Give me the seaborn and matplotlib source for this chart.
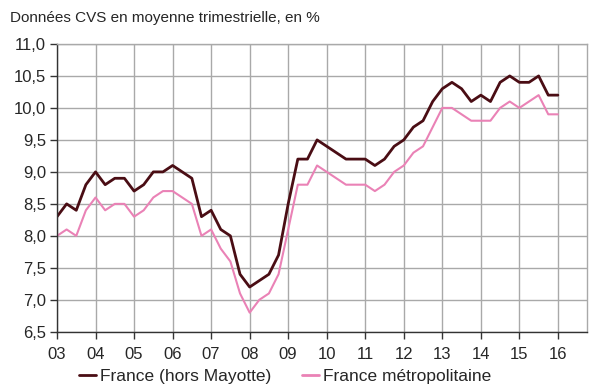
import numpy as np
import pandas as pd
import seaborn as sns
import matplotlib.pyplot as plt
from matplotlib.ticker import FuncFormatter

# quarterly data, 2003Q1 .. 2016Q1
quarters = pd.period_range('2003Q1', '2016Q1', freq='Q')
france = [8.3, 8.5, 8.4, 8.8,
          9.0, 8.8, 8.9, 8.9,
          8.7, 8.8, 9.0, 9.0,
          9.1, 9.0, 8.9, 8.3,
          8.4, 8.1, 8.0, 7.4,
          7.2, 7.3, 7.4, 7.7,
          8.5, 9.2, 9.2, 9.5,
          9.4, 9.3, 9.2, 9.2,
          9.2, 9.1, 9.2, 9.4,
          9.5, 9.7, 9.8, 10.1,
          10.3, 10.4, 10.3, 10.1,
          10.2, 10.1, 10.4, 10.5,
          10.4, 10.4, 10.5, 10.2,
          10.2]
metro = [8.0, 8.1, 8.0, 8.4,
         8.6, 8.4, 8.5, 8.5,
         8.3, 8.4, 8.6, 8.7,
         8.7, 8.6, 8.5, 8.0,
         8.1, 7.8, 7.6, 7.1,
         6.8, 7.0, 7.1, 7.4,
         8.1, 8.8, 8.8, 9.1,
         9.0, 8.9, 8.8, 8.8,
         8.8, 8.7, 8.8, 9.0,
         9.1, 9.3, 9.4, 9.7,
         10.0, 10.0, 9.9, 9.8,
         9.8, 9.8, 10.0, 10.1,
         10.0, 10.1, 10.2, 9.9,
         9.9]
series_names = ['France (hors Mayotte)', 'France métropolitaine']
colors = ['#4a0d14', '#ea82b6']
years = np.arange(2003, 2017)
title = 'Données CVS en moyenne trimestrielle, en %'

pos = quarters.year + (quarters.quarter - 1) / 4
df = pd.concat([
    pd.DataFrame({'t': pos, 'taux': france, 'serie': series_names[0]}),
    pd.DataFrame({'t': pos, 'taux': metro, 'serie': series_names[1]}),
])

sns.set_style('white')
plt.rcParams['font.family'] = ['Liberation Sans', 'DejaVu Sans']

fig = plt.figure(figsize=(6, 3.89), dpi=100)
ax = fig.add_axes([0.095, 0.147, 0.883, 0.740])

sns.lineplot(data=df, x='t', y='taux', hue='serie', hue_order=series_names,
             palette=colors, ax=ax, legend=False)
for line, lw in zip(ax.lines, [2.0, 1.5]):
    line.set_linewidth(lw)

ax.set_xlim(2003, 2016.75)
ax.set_ylim(6.5, 11.0)
ax.set_xticks(years)
ax.set_xticklabels(['%02d' % (y % 100) for y in years])
ax.set_yticks(np.arange(6.5, 11.01, 0.5))
ax.yaxis.set_major_formatter(FuncFormatter(lambda v, p: ('%.1f' % v).replace('.', ',')))
ax.grid(True, color='#a9a9a9', lw=1.0)
ax.set_axisbelow(True)
ax.tick_params(axis='both', direction='out', length=5, width=1, color='#333333',
               labelsize=12, pad=3, left=True, bottom=True)
ax.tick_params(axis='x', pad=6)
for s in ['left', 'bottom']:
    ax.spines[s].set_color('#333333')
    ax.spines[s].set_linewidth(1)
for s in ['top', 'right']:
    ax.spines[s].set_color('#a9a9a9')
    ax.spines[s].set_linewidth(1)
ax.set_xlabel('')
ax.set_ylabel('')

fig.text(0.017, 0.955, title, fontsize=11, va='center', ha='left')

handles = [plt.Line2D([], [], color=c, lw=2) for c in colors]
fig.legend(handles, series_names, loc='center', bbox_to_anchor=(0.475, 0.033),
           ncol=2, frameon=False, fontsize=12.5, handlelength=1.0,
           handletextpad=0.2, columnspacing=1.8, borderpad=0)

fig.savefig('out.png', dpi=100, facecolor='white')
